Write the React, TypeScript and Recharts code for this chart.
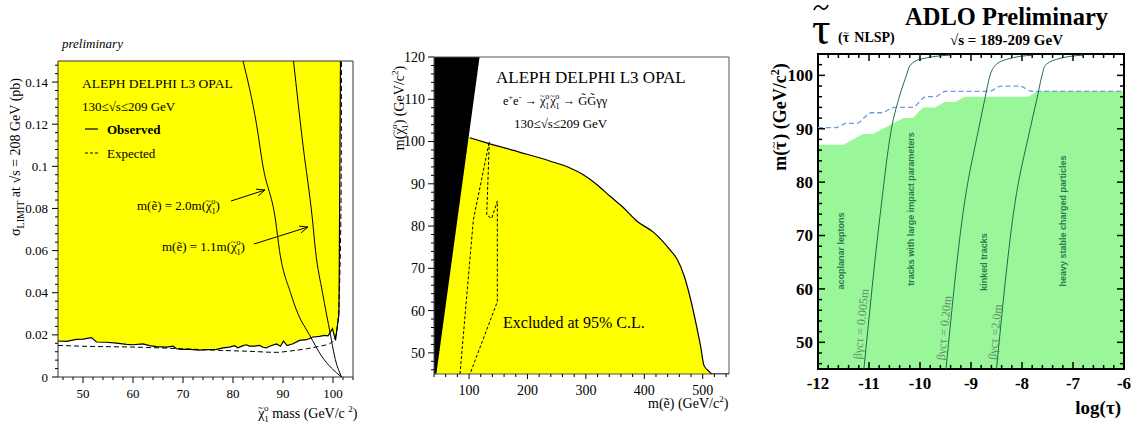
import React from 'react';
import { ComposedChart, Area, Line, XAxis, YAxis, ReferenceArea } from 'recharts';

const SERIF = "'Liberation Serif', 'Times New Roman', serif";
const SANS = "'Liberation Sans', Arial, sans-serif";

// ---------- left panel: sigma limit vs neutralino mass ----------
const obsMass = [45, 46.7, 48.7, 50, 51.7, 52.7, 54.7, 56.7, 58.7, 60, 62, 63.3, 64.7, 66.7, 68, 68.7, 69.7, 71.3, 73.3, 74.7, 76.7, 78, 79.3, 80.3, 81, 82, 82.7, 83.3, 84.3, 85.3, 86, 86.7, 87.3, 88.7, 89.5, 90.1, 90.8, 92, 93.3, 94.7, 96, 97.3, 98.3, 99, 99.9, 100.5, 101.2, 101.5];
const obsSigma = [0.0171, 0.0169, 0.0179, 0.018, 0.0187, 0.0166, 0.0165, 0.0161, 0.0155, 0.0153, 0.0157, 0.0149, 0.0144, 0.0142, 0.0146, 0.0134, 0.0131, 0.0131, 0.0128, 0.013, 0.0131, 0.0138, 0.0142, 0.0149, 0.0139, 0.0149, 0.0153, 0.0147, 0.0147, 0.015, 0.0141, 0.0138, 0.0146, 0.0157, 0.0146, 0.0171, 0.0149, 0.0158, 0.0174, 0.0177, 0.019, 0.0193, 0.0198, 0.0195, 0.0229, 0.0174, 0.03, 0.15];
const expMass = [45, 50, 60, 70, 76.7, 83.3, 88.7, 91.3, 94.7, 97.3, 99.3, 100.3, 101, 101.6, 101.7];
const expSigma = [0.015, 0.0146, 0.0142, 0.0134, 0.0127, 0.0122, 0.0117, 0.0123, 0.0134, 0.0146, 0.0158, 0.018, 0.027, 0.08, 0.15];
const sel20Mass = [82, 84.7, 86, 88.5, 89.3, 91.5, 93, 95.3, 97.7, 101.7];
const sel20Sigma = [0.15, 0.12, 0.1, 0.0745, 0.06, 0.04, 0.03, 0.02, 0.01, 0];
const sel11Mass = [92.1, 94, 95.9, 96.5, 97.9, 99.5, 100.3, 101.7];
const sel11Sigma = [0.15, 0.11, 0.0745, 0.06, 0.04, 0.02, 0.01, 0];
const sigmaMajor = [0, 0.02, 0.04, 0.06, 0.08, 0.1, 0.12, 0.14];
const chiMassMajor = [50, 60, 70, 80, 90, 100];

// ---------- middle panel: m(chi) vs m(selectron) ----------
const kinMass = [40, 44, 118];
const kinChi = [45, 45, 120];
const exclMass = [44, 101, 134.5, 186, 238, 272, 295, 318, 341, 364, 387, 416, 445, 456, 468, 479, 488, 497, 502, 511, 516, 545];
const exclChi = [45, 100.9, 99.5, 97.5, 95.4, 93.8, 92.2, 89.9, 87.1, 84.4, 81.2, 78.5, 74.2, 72.2, 68.3, 62.8, 57.3, 51.1, 47.1, 45.6, 45, 45];
const expSelMass = [84.5, 107.3, 134.7, 130.2, 138.8, 148.4, 148.4, 101.6];
const expSelChi = [45, 81.4, 100, 82.6, 81.8, 85.9, 62.1, 45];
const chiMajor = [50, 60, 70, 80, 90, 100, 110, 120];
const selMajor = [100, 200, 300, 400, 500];

// ---------- right panel: stau mass vs log(tau) ----------
const obsLogTau = [-12, -11.5, -11.12, -10.92, -10.33, -10.14, -9.94, -9.71, -9.51, -9.31, -9.12, -7.88, -7.7, -6];
const obsStau = [87, 87, 89, 89, 92, 92, 94, 94, 95, 95, 96, 96, 97, 97];
const expLogTau = [-12, -11.65, -11.45, -11.25, -10.95, -10.75, -10.5, -10.15, -9.88, -9.7, -9.5, -8.65, -8.4, -8.05, -7.8, -6];
const expStau = [90.2, 90.2, 91, 91, 93, 93, 94, 94, 96, 96, 97, 97, 98, 98, 97, 97];
const cStau = [45, 74, 90, 95.5, 99.9, 101.8, 103, 103.8];
const c005LogTau = [-11.1, -10.78, -10.56, -10.42, -10.27, -10.2, -10.0, -9.41];
const c020LogTau = [-9.49, -9.16, -8.85, -8.73, -8.63, -8.53, -8.3, -7.78];
const c20LogTau = [-8.5, -8.17, -7.84, -7.71, -7.61, -7.55, -7.32, -6.8];
const stauMajor = [50, 60, 70, 80, 90, 100];
const logMajor = [-12, -11, -10, -9, -8, -7, -6];

const zip = (xs: number[], ys: number[]) => xs.map((x, i) => ({ x, y: ys[i] }));
const steps = (from: number, to: number, step: number) => {
  const out: number[] = [];
  for (let v = from; v <= to + step / 1000; v += step) out.push(Math.round(v * 10000) / 10000);
  return out;
};

type TickCfg = {
  side: 'left' | 'right' | 'bottom' | 'top';
  majors: number[];
  inward: boolean;
  major: number;
  minor: number;
  gap?: number;
  size?: number;
  bold?: boolean;
  sw?: number;
};

const tickShape = (c: TickCfg) => (p: any) => {
  const { x, y, payload } = p;
  const v = payload.value;
  const isMajor = c.majors.some((m) => Math.abs(m - v) < 1e-6);
  const len = isMajor ? c.major : c.minor;
  const d = c.inward ? 1 : -1;
  const gap = c.gap ?? 4;
  const txt = String(Math.round(v * 1000) / 1000);
  const style = { fontFamily: SERIF, fontSize: c.size ?? 13, fontWeight: c.bold ? 700 : 400 };
  const sw = c.sw ?? 1;
  if (c.side === 'left') {
    return (
      <g>
        <line x1={x} y1={y} x2={x + d * len} y2={y} stroke="#000" strokeWidth={sw} />
        {isMajor && (
          <text x={x - (c.inward ? 0 : len) - gap} y={y} dy="0.35em" textAnchor="end" fill="#000" style={style}>{txt}</text>
        )}
      </g>
    );
  }
  if (c.side === 'right') {
    return <line x1={x} y1={y} x2={x - d * len} y2={y} stroke="#000" strokeWidth={sw} />;
  }
  if (c.side === 'top') {
    return <line x1={x} y1={y} x2={x} y2={y + d * len} stroke="#000" strokeWidth={sw} />;
  }
  return (
    <g>
      <line x1={x} y1={y} x2={x} y2={y - d * len} stroke="#000" strokeWidth={sw} />
      {isMajor && (
        <text x={x} y={y + (c.inward ? 0 : len) + gap} dy="0.8em" textAnchor="middle" fill="#000" style={style}>{txt}</text>
      )}
    </g>
  );
};

const Arrow = ({ x1, y1, x2, y2 }: { x1: number; y1: number; x2: number; y2: number }) => {
  const a = Math.atan2(y2 - y1, x2 - x1);
  const h = 9;
  const s = 0.4;
  const p1 = `${x2 - h * Math.cos(a - s)},${y2 - h * Math.sin(a - s)}`;
  const p2 = `${x2 - h * Math.cos(a + s)},${y2 - h * Math.sin(a + s)}`;
  return (
    <g stroke="#000" fill="none" strokeWidth={1}>
      <line x1={x1} y1={y1} x2={x2} y2={y2} />
      <polyline points={`${p1} ${x2},${y2} ${p2}`} />
    </g>
  );
};

// chi~_1^0 as tspans; dy0 is carried over from the previous piece,
// the tspan that follows must use dy = +0.5 fs to return to the baseline
const chi = (fs: number, k: string, dy0 = 0, dx0 = 0) => [
  <tspan key={k + 'c'} dy={dy0} dx={dx0}>χ</tspan>,
  <tspan key={k + 't'} fontSize={fs * 0.7} dx={-fs * 0.47} dy={-fs * 0.48}>~</tspan>,
  <tspan key={k + 's'} fontSize={fs * 0.65} dx={fs * 0.06} dy={fs * 0.78}>1</tspan>,
  <tspan key={k + 'o'} fontSize={fs * 0.65} dx={-fs * 0.33} dy={-fs * 0.8}>o</tspan>,
];

// letter with tilde above; the following tspan must use dy = +0.45 fs
const tilded = (ch: string, fs: number, w: number, k: string) => [
  <tspan key={k + 'l'}>{ch}</tspan>,
  <tspan key={k + 't'} fontSize={fs * 0.7} fontWeight={400} dx={-fs * (w + 0.36) / 2} dy={-fs * 0.45}>~</tspan>,
];

const LeftPanel = () => (
  <ComposedChart width={370} height={431} margin={{ top: 61, right: 17, bottom: 24, left: 8 }}>
    <XAxis type="number" dataKey="x" domain={[45, 104]} allowDataOverflow ticks={steps(46, 104, 2)} interval={0}
      axisLine={false} tickLine={false} tickSize={0} tickMargin={0} height={30}
      tick={tickShape({ side: 'bottom', majors: chiMassMajor, inward: false, major: 6, minor: 3, gap: 5 })} />
    <YAxis type="number" domain={[0, 0.15]} allowDataOverflow ticks={steps(0, 0.148, 0.004)} interval={0}
      axisLine={false} tickLine={false} tickSize={0} tickMargin={0} width={50}
      tick={tickShape({ side: 'left', majors: sigmaMajor, inward: false, major: 6, minor: 3, gap: 4 })} />
    <Area data={zip(obsMass, obsSigma)} dataKey="y" baseValue={0.15} type="linear" fill="#ffff00" fillOpacity={1} stroke="none" isAnimationActive={false} />
    <Line data={zip(expMass, expSigma)} dataKey="y" type="monotone" stroke="#000" strokeDasharray="5 3" strokeWidth={1} dot={false} isAnimationActive={false} />
    <Line data={zip(obsMass, obsSigma)} dataKey="y" type="linear" stroke="#000" strokeWidth={1.2} dot={false} isAnimationActive={false} />
    <Line data={zip(sel20Mass, sel20Sigma)} dataKey="y" type="monotone" stroke="#000" strokeWidth={1} dot={false} isAnimationActive={false} />
    <Line data={zip(sel11Mass, sel11Sigma)} dataKey="y" type="monotone" stroke="#000" strokeWidth={1} dot={false} isAnimationActive={false} />
    <ReferenceArea x1={45} x2={104} y1={0} y2={0.15} fill="none" stroke="#333" strokeWidth={1} />
  </ComposedChart>
);

const MiddlePanel = () => (
  <ComposedChart width={375} height={431} margin={{ top: 57, right: 16, bottom: 27, left: 14 }}>
    <XAxis type="number" dataKey="x" domain={[40, 545]} allowDataOverflow ticks={steps(40, 540, 20)} interval={0}
      axisLine={false} tickLine={false} tickSize={0} tickMargin={0} height={30}
      tick={tickShape({ side: 'bottom', majors: selMajor, inward: false, major: 5, minor: 3, gap: 5, size: 14 })} />
    <YAxis type="number" domain={[45, 120]} allowDataOverflow ticks={steps(46, 120, 2)} interval={0}
      axisLine={false} tickLine={false} tickSize={0} tickMargin={0} width={50}
      tick={tickShape({ side: 'left', majors: chiMajor, inward: false, major: 6, minor: 3, gap: 3, size: 14 })} />
    <Area data={zip(exclMass, exclChi)} dataKey="y" baseValue={45} type="monotone" fill="#ffff00" fillOpacity={1} stroke="none" isAnimationActive={false} />
    <Area data={zip(kinMass, kinChi)} dataKey="y" baseValue={120} type="linear" fill="#000" fillOpacity={1} stroke="none" isAnimationActive={false} />
    <Line data={zip(exclMass.slice(1), exclChi.slice(1))} dataKey="y" type="monotone" stroke="#000" strokeWidth={1.2} dot={false} isAnimationActive={false} />
    <Line data={zip(expSelMass, expSelChi)} dataKey="y" type="linear" stroke="#000" strokeDasharray="3 2" strokeWidth={1} dot={false} isAnimationActive={false} />
    <ReferenceArea x1={40} x2={545} y1={45} y2={120} fill="none" stroke="#555" strokeWidth={1} />
  </ComposedChart>
);

const RightPanel = () => (
  <ComposedChart width={384} height={431} margin={{ top: 53, right: 9, bottom: 32, left: 18 }}>
    <XAxis type="number" dataKey="x" domain={[-12, -6]} allowDataOverflow ticks={steps(-12, -6, 0.2)} interval={0}
      axisLine={false} tickLine={false} tickSize={0} tickMargin={0} height={30}
      tick={tickShape({ side: 'bottom', majors: logMajor, inward: true, major: 7, minor: 4, gap: 6, size: 17, bold: true, sw: 1.5 })} />
    <XAxis xAxisId="top" orientation="top" type="number" dataKey="x" domain={[-12, -6]} allowDataOverflow ticks={steps(-12, -6, 0.2)} interval={0}
      axisLine={false} tickLine={false} tickSize={0} tickMargin={0} height={1}
      tick={tickShape({ side: 'top', majors: logMajor, inward: true, major: 7, minor: 4, sw: 1.5 })} />
    <YAxis type="number" domain={[45, 104]} allowDataOverflow ticks={steps(46, 104, 2)} interval={0}
      axisLine={false} tickLine={false} tickSize={0} tickMargin={0} width={50}
      tick={tickShape({ side: 'left', majors: stauMajor, inward: true, major: 7, minor: 4, gap: 5, size: 17, bold: true, sw: 1.5 })} />
    <YAxis yAxisId="right" orientation="right" type="number" domain={[45, 104]} allowDataOverflow ticks={steps(46, 104, 2)} interval={0}
      axisLine={false} tickLine={false} tickSize={0} tickMargin={0} width={1}
      tick={tickShape({ side: 'right', majors: stauMajor, inward: true, major: 7, minor: 4, sw: 1.5 })} />
    <Area data={zip(obsLogTau, obsStau)} dataKey="y" baseValue={45} type="linear" fill="#99f799" fillOpacity={1} stroke="none" isAnimationActive={false} />
    <Line data={zip(expLogTau, expStau)} dataKey="y" type="monotone" stroke="#6a98e6" strokeDasharray="5 3" strokeWidth={1.3} dot={false} isAnimationActive={false} />
    <Line data={zip(c005LogTau, cStau)} dataKey="y" type="monotone" stroke="#1f6b45" strokeWidth={1} dot={false} isAnimationActive={false} />
    <Line data={zip(c020LogTau, cStau)} dataKey="y" type="monotone" stroke="#1f6b45" strokeWidth={1} dot={false} isAnimationActive={false} />
    <Line data={zip(c20LogTau, cStau)} dataKey="y" type="monotone" stroke="#1f6b45" strokeWidth={1} dot={false} isAnimationActive={false} />
    <ReferenceArea x1={-12} x2={-6} y1={45} y2={104} fill="none" stroke="#000" strokeWidth={2} />
  </ComposedChart>
);

const Overlay = () => (
  <svg width={1134} height={431} style={{ position: 'absolute', left: 0, top: 0, pointerEvents: 'none' }}>
    {/* left panel */}
    <g fontFamily={SERIF} fill="#000">
      <text x={62} y={48} fontSize={13} fontStyle="italic">preliminary</text>
      <text x={82} y={88} fontSize={13.5}>ALEPH DELPHI L3 OPAL</text>
      <text x={82} y={111} fontSize={13}>130≤√s≤209 GeV</text>
      <line x1={85} y1={129} x2={98} y2={129} stroke="#000" strokeWidth={1.2} />
      <text x={107} y={134} fontSize={13} fontWeight={700}>Observed</text>
      <line x1={85} y1={153} x2={98} y2={153} stroke="#000" strokeDasharray="3 2" />
      <text x={107} y={158} fontSize={13}>Expected</text>
      <text x={137} y={210} fontSize={13}>m(ẽ) = 2.0m({chi(13, 'a')}<tspan dy={6.5}>)</tspan></text>
      <Arrow x1={231} y1={201} x2={265} y2={190} />
      <text x={162} y={251} fontSize={13}>m(ẽ) = 1.1m({chi(13, 'b')}<tspan dy={6.5}>)</tspan></text>
      <Arrow x1={254} y1={244} x2={308} y2={227} />
      <text transform="translate(20,157) rotate(-90)" textAnchor="middle" fontSize={14}>
        σ<tspan fontSize={10} dy={4}>LIMIT</tspan><tspan dy={-4}> at √s = 208 GeV (pb)</tspan>
      </text>
      <text x={258} y={418} fontSize={14}>{chi(14, 'c')}<tspan dy={7}> mass (GeV/c </tspan><tspan fontSize={9} dy={-6}>2</tspan><tspan dy={6}>)</tspan></text>
    </g>
    {/* middle panel */}
    <g fontFamily={SERIF} fill="#000">
      <text x={496} y={83} fontSize={17}>ALEPH DELPHI L3 OPAL</text>
      <text x={503} y={105} fontSize={12.5}>
        e<tspan fontSize={8} dy={-5}>+</tspan><tspan dy={5}>e</tspan><tspan fontSize={8} dy={-5}>-</tspan><tspan dy={5}> → </tspan>
        {chi(12.5, 'd')}{chi(12.5, 'e', 6.25, 1)}<tspan dy={6.25}> → G̃G̃γγ</tspan>
      </text>
      <text x={514} y={128} fontSize={13}>130≤√s≤209 GeV</text>
      <text x={503} y={328} fontSize={16}>Excluded at 95% C.L.</text>
      <text transform="translate(404,108) rotate(-90)" textAnchor="middle" fontSize={14}>
        m({chi(14, 'f')}<tspan dy={7}>) (GeV/c</tspan><tspan fontSize={9} dy={-6}>2</tspan><tspan dy={6}>)</tspan>
      </text>
      <text x={648} y={408} fontSize={14}>m(ẽ) (GeV/c<tspan fontSize={9} dy={-6}>2</tspan><tspan dy={6}>)</tspan></text>
    </g>
    {/* right panel */}
    <path d="M814,10 C816,5 819,5 821,7.5 C823,10 826,10 828,5" fill="none" stroke="#000" strokeWidth={1.6} />
    <g fontFamily={SERIF} fill="#000" fontWeight={700}>
      <text x={812} y={44} fontSize={46} fontWeight={400}>τ</text>
      <text x={838} y={42} fontSize={14}>({tilded('τ', 14, 0.44, 'n')}<tspan dy={6.3} dx={2}> NLSP)</tspan></text>
      <text x={905} y={25} fontSize={24.5}>ADLO Preliminary</text>
      <text x={950} y={45} fontSize={15}>√s = 189-209 GeV</text>
      <text transform="translate(786,117) rotate(-90)" textAnchor="middle" fontSize={18}>
        m({tilded('τ', 18, 0.44, 'y')}<tspan dy={8.1} dx={2}>) (GeV/c</tspan><tspan fontSize={12} dy={-7}>2</tspan><tspan dy={7}>)</tspan>
      </text>
      <text x={1121} y={414} fontSize={19} textAnchor="end">log(τ)</text>
    </g>
    <g fontFamily={SANS} fill="#2a7a4e" fontSize={9} fontWeight={700}>
      <text transform="translate(844,251) rotate(-90)" textAnchor="middle">acoplanar leptons</text>
      <text transform="translate(914,209) rotate(-90)" textAnchor="middle">tracks with large impact parameters</text>
      <text transform="translate(987,262) rotate(-90)" textAnchor="middle">kinked tracks</text>
      <text transform="translate(1066,221) rotate(-90)" textAnchor="middle">heavy stable charged particles</text>
    </g>
    <g fontFamily={SERIF} fill="#5f8f6e" fontSize={12}>
      <text transform="translate(861,324) rotate(-84)" textAnchor="middle" dominantBaseline="central">βγcτ = 0.005m</text>
      <text transform="translate(944,328) rotate(-84)" textAnchor="middle" dominantBaseline="central">βγcτ = 0.20m</text>
      <text transform="translate(995,332) rotate(-84)" textAnchor="middle" dominantBaseline="central">βγcτ =2.0m</text>
    </g>
  </svg>
);

export default function App() {
  return (
    <div style={{ position: 'absolute', left: 0, top: 0, width: 1134, height: 431, background: '#fff', overflow: 'hidden' }}>
      <div style={{ position: 'absolute', left: 0, top: 0 }}><LeftPanel /></div>
      <div style={{ position: 'absolute', left: 370, top: 0 }}><MiddlePanel /></div>
      <div style={{ position: 'absolute', left: 750, top: 0 }}><RightPanel /></div>
      <Overlay />
    </div>
  );
}
